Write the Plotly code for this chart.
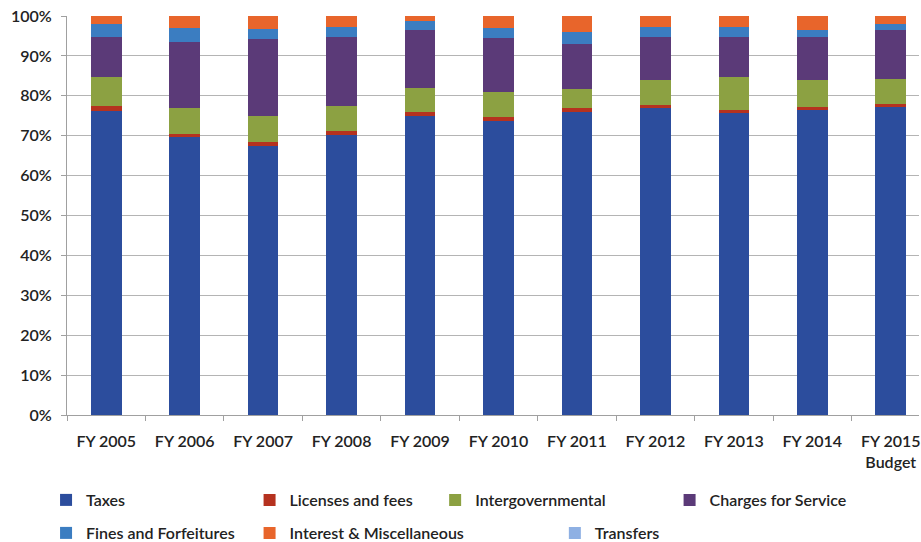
import plotly.graph_objects as go

categories = ["FY 2005", "FY 2006", "FY 2007", "FY 2008", "FY 2009", "FY 2010",
              "FY 2011", "FY 2012", "FY 2013", "FY 2014", "FY 2015<br>Budget"]

taxes = [76.3, 69.6, 67.5, 70.2, 75.0, 73.8, 76.0, 76.9, 75.6, 76.4, 77.3]
licenses = [1.2, 0.8, 0.8, 1.0, 0.9, 1.0, 0.9, 0.7, 0.8, 0.7, 0.6]
intergov = [7.2, 6.5, 6.7, 6.3, 6.1, 6.1, 4.7, 6.4, 8.2, 6.9, 6.2]
charges = [10.0, 16.7, 19.2, 17.3, 14.5, 13.5, 11.3, 10.8, 10.2, 10.8, 12.5]
fines = [3.3, 3.3, 2.5, 2.5, 2.3, 2.7, 3.0, 2.5, 2.5, 1.8, 1.5]
interest = [2.0, 3.1, 3.3, 2.7, 1.2, 2.9, 4.1, 2.7, 2.7, 3.4, 1.9]
transfers = [0, 0, 0, 0, 0, 0, 0, 0, 0, 0, 0]

series = [
    ("Taxes", taxes, "#2C4D9D"),
    ("Licenses and fees", licenses, "#B5321F"),
    ("Intergovernmental", intergov, "#8CA142"),
    ("Charges for Service", charges, "#5B3A78"),
    ("Fines and Forfeitures", fines, "#3B7DC1"),
    ("Interest & Miscellaneous", interest, "#E8652B"),
    ("Transfers", transfers, "#8EB0E3"),
]

W, H = 921, 542
ML, MR, MT, MB = 67, 0, 16, 127
pw = W - ML - MR

FONT = dict(family="Lato", size=16, color="#222222", weight=600)

# legend text start positions (px) and row centres (px)
leg_pos = [(86, 500), (290, 500), (476, 500), (711, 500),
           (86, 533), (290, 533), (596, 533)]

fig = go.Figure()
layout_legends = {}
for i, (name, vals, col) in enumerate(series):
    lname = "legend" if i == 0 else f"legend{i+1}"
    fig.add_trace(go.Bar(
        x=categories, y=vals, name=name, marker_color=col,
        marker_line_width=0, width=0.39, legend=lname,
    ))
    tx, ty = leg_pos[i]
    layout_legends[lname] = dict(
        yref="container",
        x=(tx - 40 - ML) / pw, y=1 - ty / H,
        xanchor="left", yanchor="middle",
        bgcolor="rgba(0,0,0,0)", borderwidth=0,
        font=FONT,
        itemwidth=30, tracegroupgap=0,
    )

fig.update_layout(
    width=W, height=H,
    margin=dict(l=ML, r=MR, t=MT, b=MB),
    barmode="stack", barnorm="percent",
    paper_bgcolor="white", plot_bgcolor="white",
    font=FONT,
    showlegend=True,
    **layout_legends,
)
fig.update_xaxes(
    type="category", range=[-0.5, 10.36],
    showline=True, linecolor="#A0A0A0", linewidth=1,
    ticks="outside", tickson="boundaries", ticklen=5, tickcolor="#A0A0A0",
    showgrid=False, tickfont=FONT, ticklabelstandoff=12,
)
fig.update_yaxes(
    range=[0, 100], dtick=10, ticksuffix="%",
    showline=True, linecolor="#A0A0A0", linewidth=1,
    ticks="outside", ticklen=5, tickcolor="#A0A0A0",
    showgrid=True, gridcolor="#B4B4B4", gridwidth=1,
    tickfont=FONT, ticklabelstandoff=6,
    zeroline=False,
)

fig.write_html("out.html")
